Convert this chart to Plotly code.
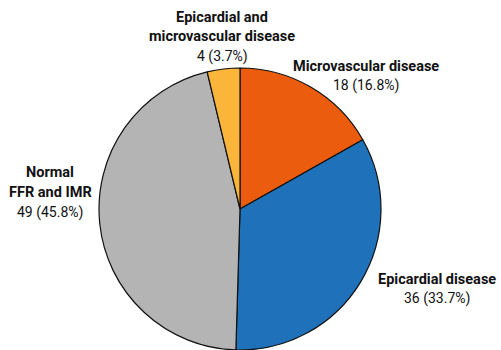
import plotly.graph_objects as go

# Patient groups by physiological classification
groups = ["Microvascular disease", "Epicardial disease", "Normal FFR and IMR",
          "Epicardial and microvascular disease"]
label_lines = [["Microvascular disease"], ["Epicardial disease"],
               ["Normal", "FFR and IMR"], ["Epicardial and", "microvascular disease"]]
counts = [18, 36, 49, 4]
percents = [16.8, 33.7, 45.8, 3.7]
colors = ["#EB5C0F", "#1F72BA", "#B4B4B4", "#FBB53A"]

W, H = 501, 350

fig = go.Figure(go.Pie(
    labels=groups,
    values=counts,
    sort=False,
    direction="clockwise",
    rotation=0,
    marker=dict(colors=colors, line=dict(color="#111111", width=1.2)),
    textinfo="none",
    hoverinfo="label+value+percent",
    showlegend=False,
    domain=dict(x=[98 / W, 382 / W], y=[0, 282 / H]),
))

# Outside labels: bold name lines followed by count and percentage
label_pos = [(366, 66), (437, 279), (50, 173), (222, 17)]
fnt = "Roboto, sans-serif"
for lines, n, p, (cx, cy) in zip(label_lines, counts, percents, label_pos):
    rows = lines + [f"{n} ({p:.1f}%)"]
    for i, row in enumerate(rows):
        bold = i < len(lines)
        fig.add_annotation(
            x=cx / W, y=1 - (cy + 19.5 * i) / H, xref="paper", yref="paper",
            text=f"<b>{row}</b>" if bold else row,
            showarrow=False, xanchor="center", yanchor="middle",
            font=dict(family=fnt, size=14.5 if bold else 14, color="#111111"),
        )

fig.update_layout(
    width=W, height=H,
    margin=dict(l=0, r=0, t=0, b=0),
    paper_bgcolor="white", plot_bgcolor="white",
)

fig.write_html("out.html")
